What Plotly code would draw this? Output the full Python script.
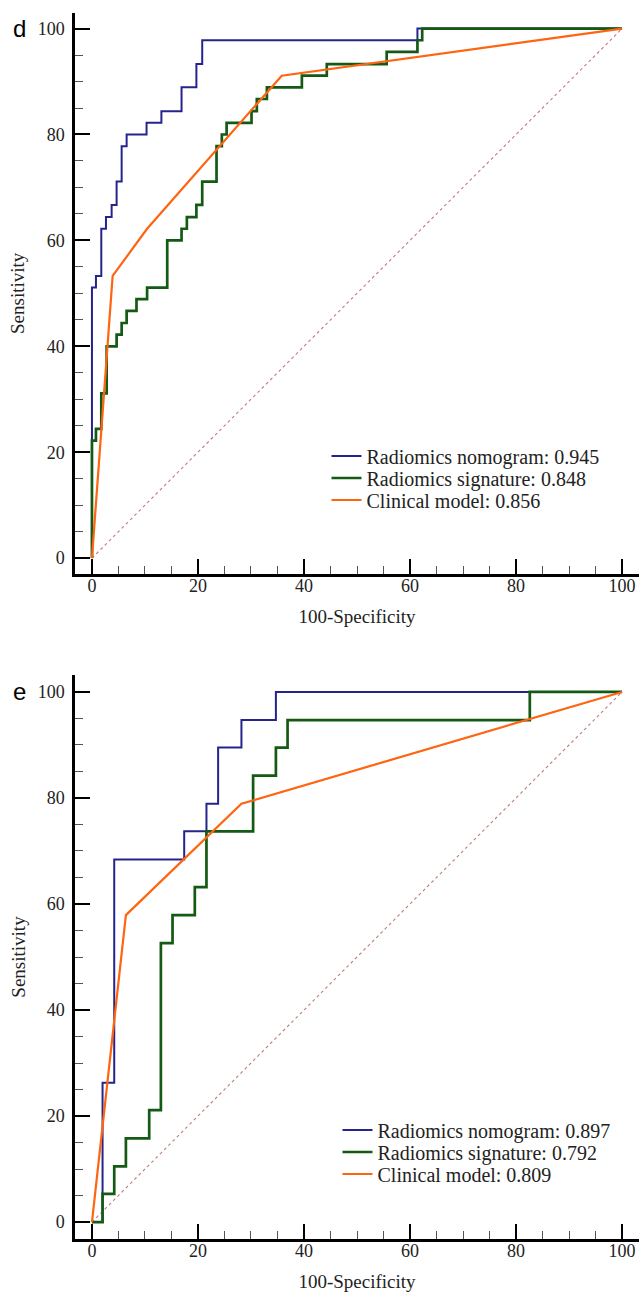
import plotly.graph_objects as go

# ---------------- data (ROC operating points, in %) ----------------
# Panel d
d_nomo_fpr = [0, 0, 0.75, 1.76, 2.64, 3.71, 4.65, 5.6, 6.54, 10.3, 13.1, 16.9, 19.7, 20.8, 61.4, 100]
d_nomo_tpr = [0, 51.1, 53.3, 62.2, 64.4, 66.7, 71.1, 77.8, 80.0, 82.2, 84.4, 88.9, 93.3, 97.8, 100, 100]
d_sig_fpr = [0, 0, 0.75, 1.76, 2.77, 4.65, 5.6, 6.54, 8.4, 10.4, 14.2, 16.9, 17.9, 19.7, 20.8,
             23.5, 24.5, 25.4, 30.1, 31.1, 33.0, 39.6, 44.3, 55.6, 61.4, 62.3, 100]
d_sig_tpr = [0, 22.2, 24.4, 31.1, 40.0, 42.2, 44.4, 46.7, 48.9, 51.1, 60.0, 62.2, 64.4, 66.7, 71.1,
             77.8, 80.0, 82.2, 84.4, 86.7, 88.9, 91.1, 93.3, 95.6, 97.8, 100, 100]
d_clin_fpr = [0, 3.9, 10.4, 35.8, 100]
d_clin_tpr = [0, 53.3, 62.2, 91.1, 100]
d_auc = {"nomo": "0.945", "sig": "0.848", "clin": "0.856"}

# Panel e
e_nomo_fpr = [0, 2.0, 4.2, 17.4, 21.6, 23.8, 28.2, 34.7, 100]
e_nomo_tpr = [0, 26.3, 68.4, 73.7, 78.9, 89.5, 94.7, 100, 100]
e_sig_fpr = [0, 2.0, 4.2, 6.4, 10.8, 13.0, 15.2, 19.4, 21.6, 30.4, 34.7, 36.9, 82.6, 100]
e_sig_tpr = [0, 5.3, 10.5, 15.8, 21.1, 52.6, 57.9, 63.2, 73.7, 84.2, 89.5, 94.7, 100, 100]
e_clin_fpr = [0, 6.4, 28.2, 100]
e_clin_tpr = [0, 57.9, 78.9, 100]
e_auc = {"nomo": "0.897", "sig": "0.792", "clin": "0.809"}

ref_line = [0, 100]
tick_vals = [0, 20, 40, 60, 80, 100]
tick_text = ["0", "20", "40", "60", "80", "100"]
panel_labels = ["d", "e"]

# ---------------- styles ----------------
C_NOMO = "#24248c"
C_SIG = "#145a14"
C_CLIN = "#ff6410"
C_REF = "#c07c7c"
SERIF = "Liberation Serif"

W, H = 639, 1294
ML, MB, MT = 75, 55, 0
plot_h = H - MB - MT

def ypap(px):
    return 1 - (px - MT) / plot_h

def xpap(px):
    return (px - ML) / (W - ML)

fig = go.Figure()

panels = [
    (d_nomo_fpr, d_nomo_tpr, d_sig_fpr, d_sig_tpr, d_clin_fpr, d_clin_tpr, d_auc, "x", "y",
     ["legend", "legend2", "legend3"]),
    (e_nomo_fpr, e_nomo_tpr, e_sig_fpr, e_sig_tpr, e_clin_fpr, e_clin_tpr, e_auc, "x2", "y2",
     ["legend4", "legend5", "legend6"]),
]
for nf, nt, sf, st, cf, ct, auc, xa, ya, lgs in panels:
    fig.add_trace(go.Scatter(x=ref_line, y=ref_line, mode="lines", xaxis=xa, yaxis=ya,
                             line=dict(color=C_REF, width=1.1, dash="dot"), showlegend=False,
                             hoverinfo="skip"))
    fig.add_trace(go.Scatter(x=nf, y=nt, mode="lines", line_shape="hv", xaxis=xa, yaxis=ya,
                             line=dict(color=C_NOMO, width=2),
                             name=f"Radiomics nomogram: {auc['nomo']}", legend=lgs[0]))
    fig.add_trace(go.Scatter(x=sf, y=st, mode="lines", line_shape="hv", xaxis=xa, yaxis=ya,
                             line=dict(color=C_SIG, width=2.7),
                             name=f"Radiomics signature: {auc['sig']}", legend=lgs[1]))
    fig.add_trace(go.Scatter(x=cf, y=ct, mode="lines", xaxis=xa, yaxis=ya,
                             line=dict(color=C_CLIN, width=2.2),
                             name=f"Clinical model: {auc['clin']}", legend=lgs[2]))

axis_common = dict(
    showline=True, linecolor="black", linewidth=2.5,
    ticks="inside", ticklen=15, tickwidth=2.2, tickcolor="black",
    tickvals=tick_vals, ticktext=tick_text,
    tickfont=dict(family=SERIF, size=18, color="#222"),
    minor=dict(dtick=5, tick0=0, ticks="inside", ticklen=8, tickwidth=1, tickcolor="#555"),
    showgrid=False, zeroline=False, fixedrange=True,
)
title_font = dict(family=SERIF, size=19, color="#222")

layout = dict(
    width=W, height=H,
    margin=dict(l=ML, r=0, t=MT, b=MB),
    paper_bgcolor="white", plot_bgcolor="white",
    xaxis=dict(axis_common, domain=[0, 1], range=[-3.2, 103.2], anchor="y",
               title=dict(text="100-Specificity", font=title_font, standoff=15),
               ticklabelstandoff=-6),
    yaxis=dict(axis_common, domain=[ypap(574), ypap(12.7)], range=[-3.0, 103.0], anchor="x",
               title=dict(text="Sensitivity", font=title_font, standoff=8),
               ticklabelstandoff=4),
    xaxis2=dict(axis_common, domain=[0, 1], range=[-3.2, 103.2], anchor="y2",
                title=dict(text="100-Specificity", font=title_font, standoff=15),
                ticklabelstandoff=-6),
    yaxis2=dict(axis_common, domain=[ypap(1239), ypap(675)], range=[-3.2, 103.2], anchor="x2",
                title=dict(text="Sensitivity", font=title_font, standoff=8),
                ticklabelstandoff=4),
    showlegend=True,
)

legend_rows = [
    ("legend", 326.5, 456), ("legend2", 326.5, 478), ("legend3", 326.5, 500),
    ("legend4", 337.5, 1130), ("legend5", 337.5, 1152), ("legend6", 337.5, 1174),
]
for name, xpx, ypx in legend_rows:
    layout[name] = dict(x=xpap(xpx), xanchor="left", y=ypap(ypx), yanchor="middle",
                        font=dict(family=SERIF, size=20, color="#222"),
                        bgcolor="rgba(0,0,0,0)")

fig.update_layout(**layout)

for lab, ypx in zip(panel_labels, [28.5, 691.5]):
    fig.add_annotation(text=lab, xref="paper", yref="paper",
                       x=xpap(19.5), y=ypap(ypx),
                       xanchor="center", yanchor="middle", showarrow=False,
                       font=dict(family="Liberation Sans", size=24, color="black"))

fig.write_html("out.html")
